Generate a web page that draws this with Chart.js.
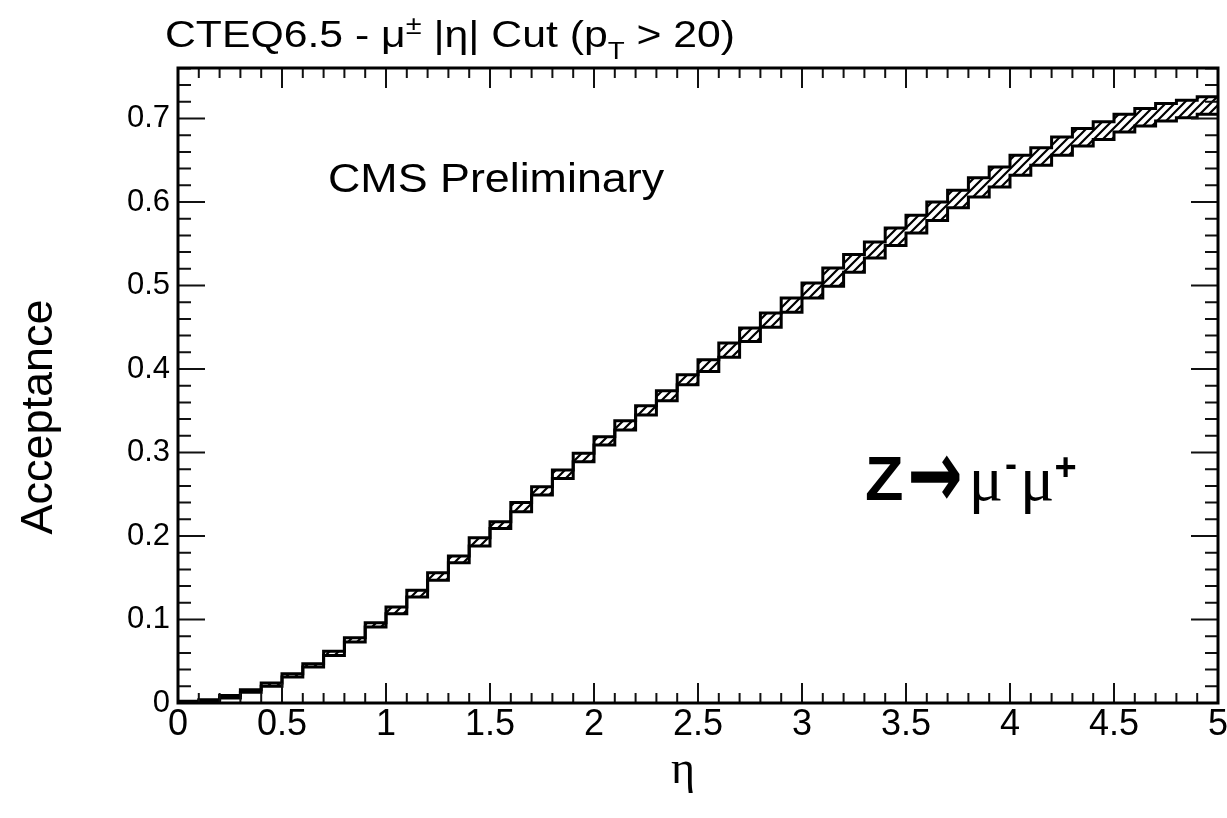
<!DOCTYPE html>
<html>
<head>
<meta charset="utf-8">
<script src="https://cdn.jsdelivr.net/npm/chart.js@4.4.0/dist/chart.umd.min.js"></script>
<style>
  html, body { margin: 0; padding: 0; background: #fff; }
  #wrap { width: 1227px; height: 818px; }
</style>
</head>
<body>
<div id="wrap"><canvas id="acc" width="1227" height="818"></canvas></div>
<script>
// bin edges in |eta| (50 bins of 0.1)
const etaEdges = [0.0, 0.1, 0.2, 0.3, 0.4, 0.5, 0.6, 0.7, 0.8, 0.9,
  1.0, 1.1, 1.2, 1.3, 1.4, 1.5, 1.6, 1.7, 1.8, 1.9,
  2.0, 2.1, 2.2, 2.3, 2.4, 2.5, 2.6, 2.7, 2.8, 2.9,
  3.0, 3.1, 3.2, 3.3, 3.4, 3.5, 3.6, 3.7, 3.8, 3.9,
  4.0, 4.1, 4.2, 4.3, 4.4, 4.5, 4.6, 4.7, 4.8, 4.9, 5.0];

// acceptance band, lower and upper edge per bin (PDF uncertainty)
const accLower = [0.000, 0.002, 0.006, 0.013, 0.020, 0.031, 0.043, 0.057, 0.073, 0.091,
  0.107, 0.127, 0.147, 0.168, 0.188, 0.209, 0.229, 0.249, 0.269, 0.289,
  0.309, 0.327, 0.345, 0.362, 0.381, 0.397, 0.414, 0.433, 0.450, 0.468,
  0.485, 0.499, 0.516, 0.533, 0.548, 0.563, 0.578, 0.593, 0.606, 0.618,
  0.632, 0.644, 0.656, 0.667, 0.675, 0.684, 0.691, 0.697, 0.701, 0.705];
const accUpper = [0.002, 0.004, 0.009, 0.016, 0.024, 0.035, 0.047, 0.062, 0.078, 0.096,
  0.115, 0.135, 0.156, 0.176, 0.198, 0.217, 0.240, 0.259, 0.279, 0.299,
  0.319, 0.338, 0.356, 0.374, 0.393, 0.411, 0.431, 0.449, 0.467, 0.485,
  0.503, 0.521, 0.537, 0.552, 0.569, 0.584, 0.600, 0.614, 0.629, 0.642,
  0.656, 0.665, 0.678, 0.688, 0.696, 0.705, 0.712, 0.718, 0.722, 0.726];

const xTickLabels = [0, 0.5, 1, 1.5, 2, 2.5, 3, 3.5, 4, 4.5, 5];
const yTickLabels = [0, 0.1, 0.2, 0.3, 0.4, 0.5, 0.6, 0.7];

// histogram as step points: each bin starts at its left edge, last edge closes it
function toSteps(vals) {
  return etaEdges.map((x, i) => ({ x: x, y: vals[Math.min(i, vals.length - 1)] }));
}

const canvas = document.getElementById('acc');

// "/" hatching for the band
function makeHatch() {
  const c = document.createElement('canvas');
  c.width = 9; c.height = 9;
  const g = c.getContext('2d');
  g.strokeStyle = '#000';
  g.lineWidth = 2.2;
  g.beginPath();
  g.moveTo(-1, 10); g.lineTo(10, -1);
  g.moveTo(-3, 3); g.lineTo(3, -3);
  g.moveTo(6, 12); g.lineTo(12, 6);
  g.stroke();
  return canvas.getContext('2d').createPattern(c, 'repeat');
}

// frame with inward ticks on all four sides
const frameTicks = {
  id: 'frameTicks',
  afterDatasetsDraw(chart) {
    const { ctx, chartArea: a, scales: { x, y } } = chart;
    ctx.save();
    ctx.strokeStyle = '#111';
    ctx.lineWidth = 2;
    ctx.beginPath();
    for (let i = 0; i <= 50; i++) {
      const px = x.getPixelForValue(i / 10);
      const len = i % 5 === 0 ? 20 : 10;
      ctx.moveTo(px, a.bottom); ctx.lineTo(px, a.bottom - len);
      ctx.moveTo(px, a.top); ctx.lineTo(px, a.top + len);
    }
    for (let j = 0; j * 0.02 <= y.max; j++) {
      const py = y.getPixelForValue(j * 0.02);
      const len = j % 5 === 0 ? 27 : 13;
      ctx.moveTo(a.left, py); ctx.lineTo(a.left + len, py);
      ctx.moveTo(a.right, py); ctx.lineTo(a.right - len, py);
    }
    ctx.stroke();
    ctx.strokeStyle = '#000';
    ctx.lineWidth = 3;
    ctx.strokeRect(a.left, a.top, a.right - a.left, a.bottom - a.top);
    ctx.restore();
  }
};

// draws a run of text pieces (font / shift / scale each), stretched sideways
function textRun(ctx, parts, x, base, sx) {
  ctx.save();
  ctx.translate(x, base);
  ctx.scale(sx, 1);
  ctx.fillStyle = '#000';
  ctx.textBaseline = 'alphabetic';
  let cx = 0;
  for (const p of parts) {
    ctx.font = p.font;
    cx += p.dx || 0;
    ctx.save();
    ctx.translate(cx, p.dy || 0);
    ctx.scale(1, p.sy || 1);
    ctx.fillText(p.t, 0, 0);
    ctx.restore();
    cx += ctx.measureText(p.t).width;
  }
  ctx.restore();
}

const labels = {
  id: 'labels',
  afterDraw(chart) {
    const ctx = chart.ctx;
    const sans = '"Liberation Sans", Arial, sans-serif';
    const serif = '"Liberation Serif", "DejaVu Serif", serif';

    textRun(ctx, [
      { t: 'CTEQ6.5 - \u03bc', font: '37px ' + sans },
      { t: '\u00b1', font: '25px ' + sans, dy: -13 },
      { t: ' |\u03b7| Cut (p', font: '37px ' + sans },
      { t: 'T', font: '24px ' + sans, dy: 12 },
      { t: ' > 20)', font: '37px ' + sans }
    ], 165, 47, 1.155);

    textRun(ctx, [{ t: 'CMS Preliminary', font: '40px ' + sans }], 328, 192, 1.12);

    textRun(ctx, [
      { t: 'Z', font: 'bold 63px ' + sans },
      { t: '\u2192', font: 'bold 66px "DejaVu Sans", sans-serif', dx: 4, dy: 7, sy: 1.45 },
      { t: '\u03bc', font: '64px ' + serif, dx: 6 },
      { t: '-', font: 'bold 36px ' + sans, dy: -24, dx: 2 },
      { t: '\u03bc', font: '64px ' + serif, dx: 3 },
      { t: '+', font: 'bold 38px ' + sans, dy: -20 }
    ], 865, 500, 1.0);

    // axis titles
    ctx.save();
    ctx.fillStyle = '#000';
    ctx.font = '45px ' + sans;
    ctx.textAlign = 'center';
    ctx.textBaseline = 'middle';
    ctx.translate(40, 417);
    ctx.rotate(-Math.PI / 2);
    ctx.fillText('Acceptance', 0, 0);
    ctx.restore();

    ctx.save();
    ctx.fillStyle = '#000';
    ctx.font = '46px ' + serif;
    ctx.textAlign = 'center';
    ctx.textBaseline = 'alphabetic';
    ctx.fillText('\u03b7', 683, 783);
    ctx.restore();
  }
};

const tickFont = { family: '"Liberation Sans", Arial, sans-serif' };

new Chart(canvas, {
  type: 'line',
  data: {
    datasets: [
      {
        label: 'lower',
        data: toSteps(accLower),
        stepped: 'before',
        borderColor: '#000',
        borderWidth: 3,
        borderJoinStyle: 'miter',
        pointRadius: 0,
        fill: false
      },
      {
        label: 'upper',
        data: toSteps(accUpper),
        stepped: 'before',
        borderColor: '#000',
        borderWidth: 3,
        borderJoinStyle: 'miter',
        pointRadius: 0,
        backgroundColor: makeHatch(),
        fill: '-1'
      }
    ]
  },
  options: {
    responsive: false,
    animation: false,
    devicePixelRatio: 1,
    layout: { padding: { left: 0, top: 68, right: 9, bottom: 0 } },
    plugins: {
      legend: { display: false },
      tooltip: { enabled: false },
      title: { display: false }
    },
    scales: {
      x: {
        type: 'linear',
        min: 0,
        max: 5,
        grid: { display: false, drawTicks: false },
        border: { display: false },
        afterFit: s => { s.height = 115; s.paddingLeft = 0; s.paddingRight = 0; },
        afterBuildTicks: s => { s.ticks = xTickLabels.map(v => ({ value: v })); },
        ticks: {
          padding: 0,
          maxRotation: 0,
          autoSkip: false,
          color: '#000',
          font: { ...tickFont, size: 36 },
          callback: v => String(v)
        }
      },
      y: {
        type: 'linear',
        min: 0,
        max: 0.7605,
        grid: { display: false, drawTicks: false },
        border: { display: false },
        afterFit: s => { s.width = 178; s.paddingTop = 0; s.paddingBottom = 0; },
        afterBuildTicks: s => { s.ticks = yTickLabels.map(v => ({ value: v })); },
        ticks: {
          padding: 8,
          autoSkip: false,
          color: '#000',
          font: { ...tickFont, size: 31 },
          callback: v => String(v)
        }
      }
    }
  },
  plugins: [frameTicks, labels]
});
</script>
</body>
</html>
